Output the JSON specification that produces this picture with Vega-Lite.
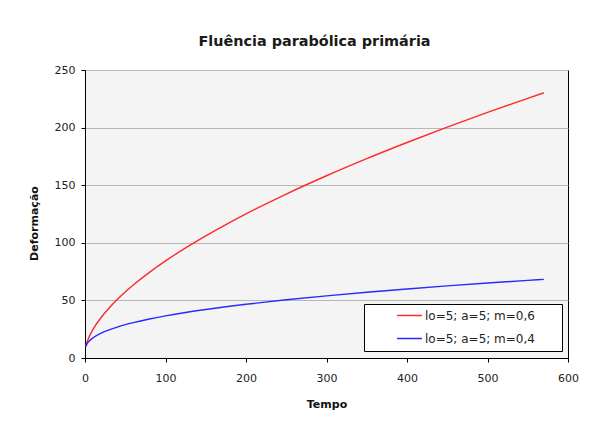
{
  "$schema": "https://vega.github.io/schema/vega-lite/v6.json",
  "width": 483,
  "height": 288,
  "autosize": {"type": "none"},
  "padding": {"left": 85, "top": 70, "right": 29, "bottom": 65},
  "background": "white",
  "title": {
    "text": "Fluência parabólica primária",
    "anchor": "middle",
    "frame": "group",
    "dx": -12,
    "offset": 15,
    "font": "DejaVu Sans",
    "fontSize": 14.4,
    "fontWeight": "bold",
    "color": "#1a1a1a"
  },
  "data": {
    "values": [
      {"Tempo": 1, "Deformacao": 10.0, "serie": "lo=5; a=5; m=0,6"},
      {"Tempo": 2, "Deformacao": 12.58, "serie": "lo=5; a=5; m=0,6"},
      {"Tempo": 5, "Deformacao": 18.13, "serie": "lo=5; a=5; m=0,6"},
      {"Tempo": 10, "Deformacao": 24.91, "serie": "lo=5; a=5; m=0,6"},
      {"Tempo": 20, "Deformacao": 35.17, "serie": "lo=5; a=5; m=0,6"},
      {"Tempo": 30, "Deformacao": 43.48, "serie": "lo=5; a=5; m=0,6"},
      {"Tempo": 40, "Deformacao": 50.73, "serie": "lo=5; a=5; m=0,6"},
      {"Tempo": 50, "Deformacao": 57.29, "serie": "lo=5; a=5; m=0,6"},
      {"Tempo": 60, "Deformacao": 63.33, "serie": "lo=5; a=5; m=0,6"},
      {"Tempo": 80, "Deformacao": 74.32, "serie": "lo=5; a=5; m=0,6"},
      {"Tempo": 100, "Deformacao": 84.25, "serie": "lo=5; a=5; m=0,6"},
      {"Tempo": 125, "Deformacao": 95.6, "serie": "lo=5; a=5; m=0,6"},
      {"Tempo": 150, "Deformacao": 106.07, "serie": "lo=5; a=5; m=0,6"},
      {"Tempo": 175, "Deformacao": 115.87, "serie": "lo=5; a=5; m=0,6"},
      {"Tempo": 200, "Deformacao": 125.11, "serie": "lo=5; a=5; m=0,6"},
      {"Tempo": 250, "Deformacao": 142.33, "serie": "lo=5; a=5; m=0,6"},
      {"Tempo": 300, "Deformacao": 158.2, "serie": "lo=5; a=5; m=0,6"},
      {"Tempo": 350, "Deformacao": 173.05, "serie": "lo=5; a=5; m=0,6"},
      {"Tempo": 400, "Deformacao": 187.06, "serie": "lo=5; a=5; m=0,6"},
      {"Tempo": 450, "Deformacao": 200.39, "serie": "lo=5; a=5; m=0,6"},
      {"Tempo": 500, "Deformacao": 213.14, "serie": "lo=5; a=5; m=0,6"},
      {"Tempo": 550, "Deformacao": 225.4, "serie": "lo=5; a=5; m=0,6"},
      {"Tempo": 570, "Deformacao": 230.18, "serie": "lo=5; a=5; m=0,6"},
      {"Tempo": 1, "Deformacao": 10.0, "serie": "lo=5; a=5; m=0,4"},
      {"Tempo": 2, "Deformacao": 11.6, "serie": "lo=5; a=5; m=0,4"},
      {"Tempo": 5, "Deformacao": 14.52, "serie": "lo=5; a=5; m=0,4"},
      {"Tempo": 10, "Deformacao": 17.56, "serie": "lo=5; a=5; m=0,4"},
      {"Tempo": 20, "Deformacao": 21.57, "serie": "lo=5; a=5; m=0,4"},
      {"Tempo": 30, "Deformacao": 24.49, "serie": "lo=5; a=5; m=0,4"},
      {"Tempo": 40, "Deformacao": 26.87, "serie": "lo=5; a=5; m=0,4"},
      {"Tempo": 50, "Deformacao": 28.91, "serie": "lo=5; a=5; m=0,4"},
      {"Tempo": 60, "Deformacao": 30.72, "serie": "lo=5; a=5; m=0,4"},
      {"Tempo": 80, "Deformacao": 33.86, "serie": "lo=5; a=5; m=0,4"},
      {"Tempo": 100, "Deformacao": 36.55, "serie": "lo=5; a=5; m=0,4"},
      {"Tempo": 125, "Deformacao": 39.5, "serie": "lo=5; a=5; m=0,4"},
      {"Tempo": 150, "Deformacao": 42.1, "serie": "lo=5; a=5; m=0,4"},
      {"Tempo": 175, "Deformacao": 44.46, "serie": "lo=5; a=5; m=0,4"},
      {"Tempo": 200, "Deformacao": 46.63, "serie": "lo=5; a=5; m=0,4"},
      {"Tempo": 250, "Deformacao": 50.51, "serie": "lo=5; a=5; m=0,4"},
      {"Tempo": 300, "Deformacao": 53.96, "serie": "lo=5; a=5; m=0,4"},
      {"Tempo": 350, "Deformacao": 57.07, "serie": "lo=5; a=5; m=0,4"},
      {"Tempo": 400, "Deformacao": 59.93, "serie": "lo=5; a=5; m=0,4"},
      {"Tempo": 450, "Deformacao": 62.58, "serie": "lo=5; a=5; m=0,4"},
      {"Tempo": 500, "Deformacao": 65.06, "serie": "lo=5; a=5; m=0,4"},
      {"Tempo": 550, "Deformacao": 67.39, "serie": "lo=5; a=5; m=0,4"},
      {"Tempo": 570, "Deformacao": 68.28, "serie": "lo=5; a=5; m=0,4"}
    ]
  },
  "mark": {"type": "line", "strokeWidth": 1.4, "interpolate": "monotone"},
  "encoding": {
    "x": {
      "field": "Tempo",
      "type": "quantitative",
      "scale": {"domain": [0, 600], "nice": false, "zero": true},
      "axis": {
        "values": [0, 100, 200, 300, 400, 500, 600],
        "grid": false,
        "labelFlush": false,
        "title": "Tempo",
        "labelPadding": 10,
        "titlePadding": 15
      }
    },
    "y": {
      "field": "Deformacao",
      "type": "quantitative",
      "scale": {"domain": [0, 250], "nice": false},
      "axis": {
        "values": [0, 50, 100, 150, 200, 250],
        "grid": true,
        "gridColor": "#b8b8b8",
        "gridWidth": 1,
        "title": "Deformação",
        "labelPadding": 6,
        "titleX": -46,
        "titleY": 153
      }
    },
    "color": {
      "field": "serie",
      "type": "nominal",
      "sort": ["lo=5; a=5; m=0,6", "lo=5; a=5; m=0,4"],
      "scale": {
        "domain": ["lo=5; a=5; m=0,6", "lo=5; a=5; m=0,4"],
        "range": ["#ff2a2a", "#2a2aff"]
      },
      "legend": {
        "title": null,
        "orient": "none",
        "legendX": 279,
        "legendY": 234,
        "fillColor": "white",
        "strokeColor": "#000000",
        "padding": 6,
        "symbolType": "stroke",
        "symbolSize": 625,
        "symbolStrokeWidth": 1.5,
        "symbolOffset": 26,
        "labelOffset": 2,
        "labelFont": "DejaVu Sans",
        "labelFontSize": 12,
        "labelColor": "#222222",
        "clipHeight": 11,
        "rowPadding": 10,
        "encode": {"entries": {"update": {"width": {"value": 186}}}}
      }
    }
  },
  "config": {
    "view": {"fill": "#f4f4f4", "stroke": "#000000", "strokeWidth": 1},
    "axis": {
      "labelFont": "DejaVu Sans",
      "labelFontSize": 11,
      "labelColor": "#222222",
      "domainColor": "#000000",
      "tickColor": "#000000",
      "tickSize": 4,
      "titleFont": "DejaVu Sans",
      "titleFontSize": 11,
      "titleFontWeight": "bold",
      "titleColor": "#111111"
    }
  }
}
